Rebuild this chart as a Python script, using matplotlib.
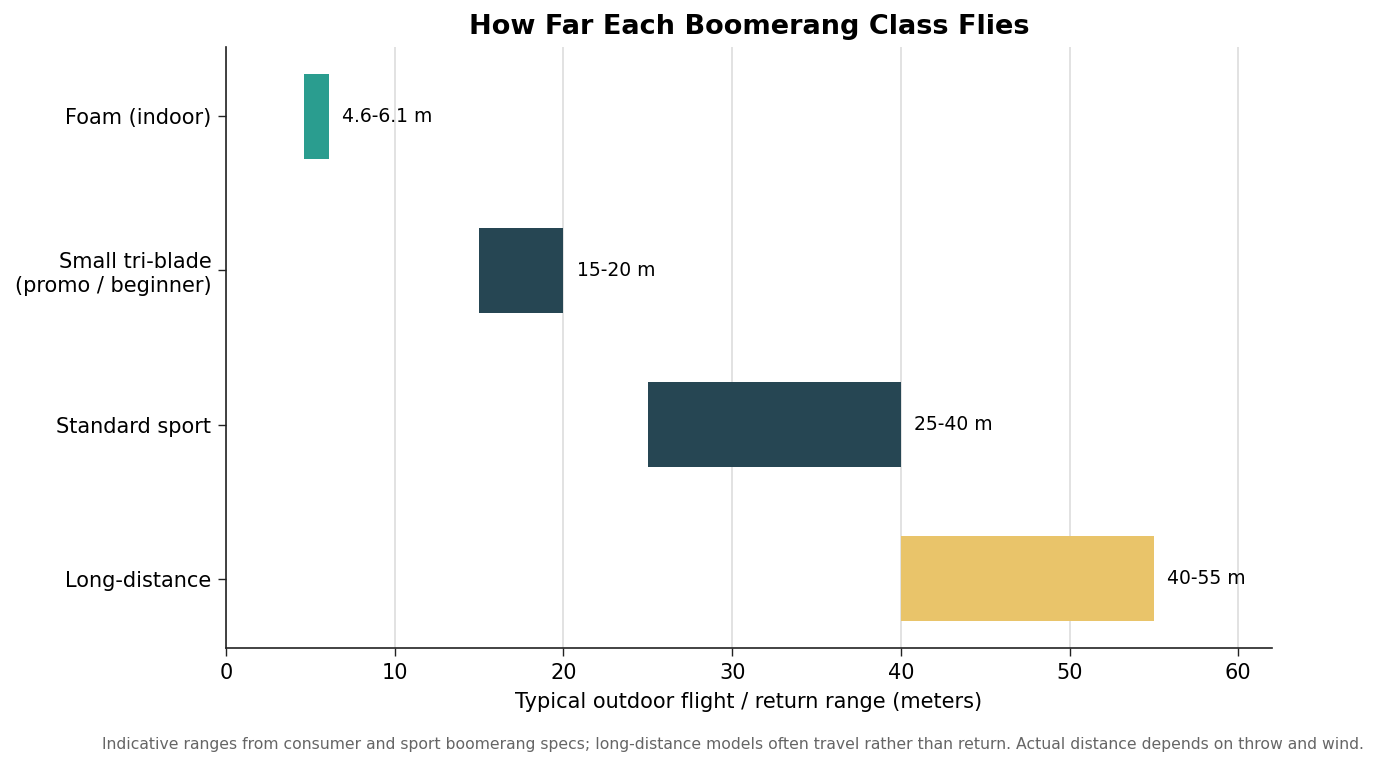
import matplotlib
matplotlib.use("Agg")
import matplotlib.pyplot as plt

categories = ["Foam (indoor)", "Small tri-blade\n(promo / beginner)", "Standard sport", "Long-distance"]
low = [4.6, 15, 25, 40]
high = [6.1, 20, 40, 55]
labels = ["4.6-6.1 m", "15-20 m", "25-40 m", "40-55 m"]
colors = ["#2a9d8f", "#264653", "#264653", "#e9c46a"]

fig = plt.figure(figsize=(13.78, 7.67), dpi=100)
ax = fig.add_axes([226/1378, 1-648/767, (1272-226)/1378, (648-47)/767])

y = list(range(len(categories)))
widths = [h - l for l, h in zip(low, high)]
ax.barh(y, widths, left=low, height=0.55, color=colors, zorder=3)
for yi, h, lab in zip(y, high, labels):
    ax.text(h + 0.8, yi, lab, va="center", ha="left", fontsize=13.5)

ax.set_yticks(y)
ax.set_yticklabels(categories, fontsize=15)
ax.set_xlim(0, 62)
ax.set_ylim(3.45, -0.45)
ax.set_xticks([0, 10, 20, 30, 40, 50, 60])
ax.tick_params(axis="both", labelsize=15, length=6, width=1.0, color="#222222", pad=4.5)
ax.grid(axis="x", color="#dddddd", linewidth=1.2, zorder=0)
ax.set_axisbelow(True)
for s in ["top", "right"]:
    ax.spines[s].set_visible(False)
for s in ["left", "bottom"]:
    ax.spines[s].set_linewidth(1.2)
    ax.spines[s].set_color("#222222")
ax.set_xlabel("Typical outdoor flight / return range (meters)", fontsize=15, labelpad=7)
ax.set_title("How Far Each Boomerang Class Flies", fontsize=19.5, fontweight="bold", pad=9.5)
fig.text(1364/1378, 1-744/767, "Indicative ranges from consumer and sport boomerang specs; long-distance models often travel rather than return. Actual distance depends on throw and wind.",
         ha="right", va="center", fontsize=11.25, color="#666666")
fig.savefig("out.png", dpi=100)
